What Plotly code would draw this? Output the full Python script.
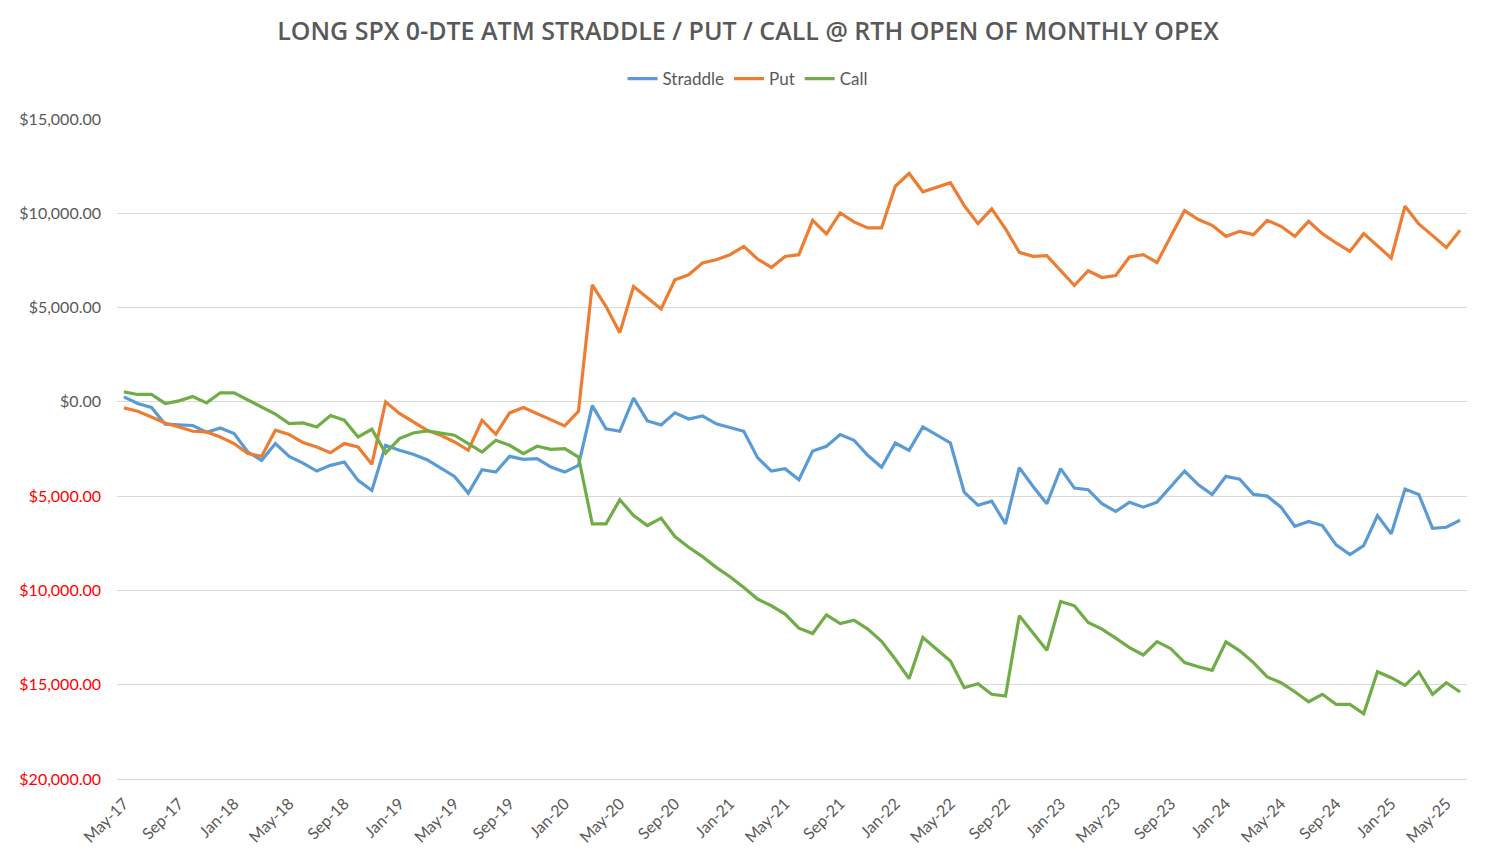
import plotly.graph_objects as go
import pandas as pd

months = [d.strftime("%b-%y") for d in pd.date_range("2017-05-01", periods=98, freq="MS")]

straddle = [266, -85, -298, -1186, -1223, -1255, -1612, -1383, -1681, -2660,
            -3101, -2213, -2888, -3245, -3670, -3367, -3191, -4165, -4697, -2303,
            -2569, -2782, -3064, -3489, -3952, -4840, -3596, -3724, -2888, -3048,
            -3010, -3457, -3724, -3367, -200, -1430, -1558, 200, -1011, -1220,
            -585, -910, -745, -1165, -1383, -1558, -2957, -3670, -3542, -4128,
            -2606, -2356, -1734, -2037, -2835, -3470, -2181, -2569, -1330, -1771,
            -2181, -4787, -5479, -5266, -6468, -3489, -4484, -5404, -3542, -4574,
            -4659, -5404, -5814, -5319, -5585, -5319, -4500, -3670, -4400, -4910,
            -3952, -4096, -4910, -5000, -5585, -6596, -6346, -6558, -7585, -8101,
            -7622, -6026, -7000, -4627, -4910, -6702, -6649, -6276]

put = [-319, -495, -798, -1117, -1330, -1558, -1596, -1862, -2213, -2745,
       -2888, -1505, -1734, -2160, -2394, -2700, -2213, -2394, -3314, 0,
       -617, -1064, -1505, -1771, -2128, -2569, -973, -1718, -585, -298,
       -617, -936, -1277, -500, 6207, 5053, 3670, 6117, 5500, 4931,
       6473, 6739, 7361, 7537, 7803, 8245, 7574, 7128, 7713, 7803,
       9628, 8904, 10021, 9543, 9223, 9223, 11436, 12112, 11138, 11383,
       11617, 10410, 9452, 10234, 9170, 7925, 7713, 7750, 6968, 6170,
       6952, 6596, 6702, 7681, 7803, 7394, 8777, 10144, 9665, 9362,
       8777, 9043, 8867, 9628, 9309, 8777, 9575, 8920, 8425, 7979,
       8920, 8282, 7628, 10372, 9436, 8814, 8191, 9096]

call = [532, 392, 392, -85, 53, 287, -53, 479, 479, 90,
        -298, -654, -1149, -1117, -1330, -723, -973, -1862, -1452, -2713,
        -1947, -1649, -1543, -1649, -1771, -2213, -2660, -2037, -2303, -2745,
        -2356, -2516, -2479, -2926, -6468, -6468, -5191, -6026, -6558, -6170,
        -7144, -7713, -8207, -8776, -9271, -9840, -10457, -10814, -11255, -12000,
        -12287, -11292, -11755, -11574, -12053, -12700, -13650, -14680, -12500, -13117,
        -13739, -15159, -14946, -15510, -15600, -11346, -12234, -13170, -10585, -10814,
        -11702, -12053, -12532, -13032, -13420, -12713, -13090, -13830, -14050, -14234,
        -12729, -13207, -13830, -14590, -14893, -15372, -15904, -15510, -16042, -16042,
        -16542, -14308, -14627, -15031, -14324, -15510, -14893, -15388]

y_ticks = [-20000, -15000, -10000, -5000, 0, 5000, 10000, 15000]

FONT = "Lato"
GRAY = "#595959"

W, H = 1489, 857  # page body has an 8px margin


def money(v):
    s = "${:,.2f}".format(abs(v))
    if v < 0:
        return '<span style="color:#FF0000">' + s + "</span>"
    return s


x_idx = list(range(len(months)))

fig = go.Figure()
for name, vals, color in [("Straddle", straddle, "#5B9BD5"),
                          ("Put", put, "#ED7D31"),
                          ("Call", call, "#70AD47")]:
    fig.add_trace(go.Scatter(x=x_idx, y=vals, mode="lines", name=name,
                             line=dict(color=color, width=3.2)))

fig.update_layout(
    width=W, height=H,
    paper_bgcolor="white", plot_bgcolor="white",
    margin=dict(l=109, r=30, t=111, b=86),
    font=dict(family=FONT, color=GRAY),
    title=dict(text="LONG SPX 0-DTE ATM STRADDLE / PUT / CALL @ RTH OPEN OF MONTHLY OPEX",
               x=0.497, xanchor="center", xref="container",
               y=1 - 23 / H, yanchor="middle", yref="container",
               font=dict(family="Open Sans", size=25, color=GRAY, weight=600)),
    legend=dict(orientation="h", x=0.497, xanchor="center", xref="container",
                y=1 - 71 / H, yanchor="middle", yref="container",
                font=dict(family=FONT, size=17, color=GRAY),
                tracegroupgap=0),
    showlegend=True,
)

fig.update_xaxes(
    range=[-0.5, len(months) - 0.5],
    tickmode="array", tickvals=x_idx[::4], ticktext=months[::4],
    tickangle=-45, tickfont=dict(family=FONT, size=16, color=GRAY),
    showgrid=False, zeroline=False, showline=True, linecolor="#D9D9D9", linewidth=1,
    ticks="", ticklabelstandoff=8,
)

fig.update_yaxes(
    range=[-20000, 15000],
    tickmode="array", tickvals=y_ticks, ticktext=[money(v) for v in y_ticks],
    tickfont=dict(family=FONT, size=16, color=GRAY),
    showgrid=True, gridcolor="#D9D9D9", gridwidth=1,
    zeroline=False, showline=False, ticks="", ticklabelstandoff=15,
)

fig.write_html("out.html")
